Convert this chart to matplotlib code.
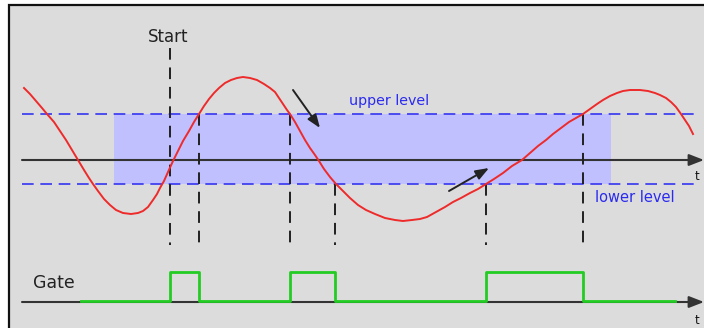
import matplotlib.pyplot as plt
from matplotlib.patches import Rectangle

# everything is laid out in picture units (x to the right, y downwards)

# red input signal
sig_x = [24, 30, 36, 42, 47, 54, 60, 66, 72, 78, 84, 89, 93, 98, 104, 110, 116, 123, 131, 138,
         143, 148, 153, 157, 160, 164, 168, 173, 178, 183, 189, 194, 199, 204, 209, 214, 219,
         225, 231, 237, 243, 250, 257, 264, 270, 275, 279, 283, 287, 290, 295, 300, 305, 310,
         315, 319, 324, 330, 336, 343, 350, 358, 366, 375, 385, 395, 403, 412, 420, 427, 436,
         445, 453, 461, 470, 478, 486, 494, 503, 512, 522, 530, 538, 546, 553, 561, 569, 576,
         583, 590, 597, 603, 610, 617, 623, 630, 640, 648, 655, 660, 666, 671, 676, 681, 685,
         689, 693]
sig_y = [88, 94, 101, 108, 114, 122, 131, 140, 150, 160, 170, 178, 184, 191, 199, 205, 210, 213,
         214, 213, 211, 207, 200, 194, 188, 181, 172, 161, 151, 141, 131, 122, 114, 106, 99, 93,
         88, 83, 80, 78, 77, 78, 80, 84, 88, 92, 98, 104, 110, 114, 122, 131, 140, 148, 155, 161,
         169, 177, 184, 191, 198, 205, 210, 214, 218, 220, 221, 220, 219, 217, 212, 207, 202,
         198, 193, 189, 184, 179, 173, 166, 160, 153, 146, 140, 134, 128, 122, 118, 114, 109,
         104, 100, 96, 93, 91, 90, 90, 91, 93, 95, 98, 102, 107, 114, 120, 126, 134]

# trigger levels and the band between them
upper_level = 114
lower_level = 184
zero_line = 160
band_x = [114, 611]

# crossings that switch the gate
cross_x = [170, 199, 290, 335, 486, 583]
cross_top = [48, 114, 114, 184, 184, 114]
cross_bottom = 245

# gate output
gate_x = [81, 170, 199, 290, 335, 486, 583, 675]
gate_state = [0, 1, 0, 1, 0, 1, 0, 0]
gate_low = 301
gate_high = 272
gate_axis = 302

fig = plt.figure(figsize=(7.04, 3.28), dpi=100)
ax = fig.add_axes([0, 0, 1, 1])
ax.set_xlim(0, 704)
ax.set_ylim(328, 0)
ax.axis('off')

ax.add_patch(Rectangle((9, 5), 720, 340, facecolor='#dcdcdc', edgecolor='#111111', lw=1.6, zorder=0))

# band
ax.add_patch(Rectangle((band_x[0], upper_level), band_x[1] - band_x[0], lower_level - upper_level,
                       facecolor='#c0c0ff', edgecolor='none', zorder=1))

# level lines
for lvl in (upper_level, lower_level):
    ax.plot([22, 697], [lvl, lvl], color='#3535f0', lw=1.2, dashes=(7, 4), zorder=2)

# time axes with arrow heads
for yy in (zero_line, gate_axis):
    ax.annotate('', xy=(704, yy), xytext=(22, yy),
                arrowprops=dict(arrowstyle='-|>,head_length=0.9,head_width=0.35',
                                color='#333333', lw=1.5, shrinkA=0, shrinkB=0), zorder=3)
ax.text(697, zero_line + 17, 't', fontsize=8.5, ha='center', va='center', color='#111111')
ax.text(697, gate_axis + 18, 't', fontsize=8.5, ha='center', va='center', color='#111111')

# crossing markers
for cx, ct in zip(cross_x, cross_top):
    ax.plot([cx, cx], [ct, cross_bottom], color='#202020', lw=1.4, dashes=(6, 4), zorder=3)

# signal
ax.plot(sig_x, sig_y, color='#ee2a2a', lw=1.4, zorder=4)

# gate
gate_y = [gate_high if s else gate_low for s in gate_state]
ax.step(gate_x, gate_y, where='post', color='#22cc22', lw=2.0, zorder=4)

# arrows pointing at the crossings
ax.annotate('', xy=(320, 128), xytext=(293, 90),
            arrowprops=dict(arrowstyle='-|>,head_length=0.8,head_width=0.3', color='#222222', lw=1.4,
                            shrinkA=0, shrinkB=0), zorder=5)
ax.annotate('', xy=(489, 168), xytext=(449, 191),
            arrowprops=dict(arrowstyle='-|>,head_length=0.8,head_width=0.3', color='#222222', lw=1.4,
                            shrinkA=0, shrinkB=0), zorder=5)

ax.text(168, 37, 'Start', fontsize=12, ha='center', va='center', color='#222222')
ax.text(33, 283, 'Gate', fontsize=12.5, ha='left', va='center', color='#222222')
ax.text(389, 101, 'upper level', fontsize=10.3, ha='center', va='center', color='#2a2af0')
ax.text(635, 197, 'lower level', fontsize=10.5, ha='center', va='center', color='#2a2af0')

fig.savefig('out.png', dpi=100)
